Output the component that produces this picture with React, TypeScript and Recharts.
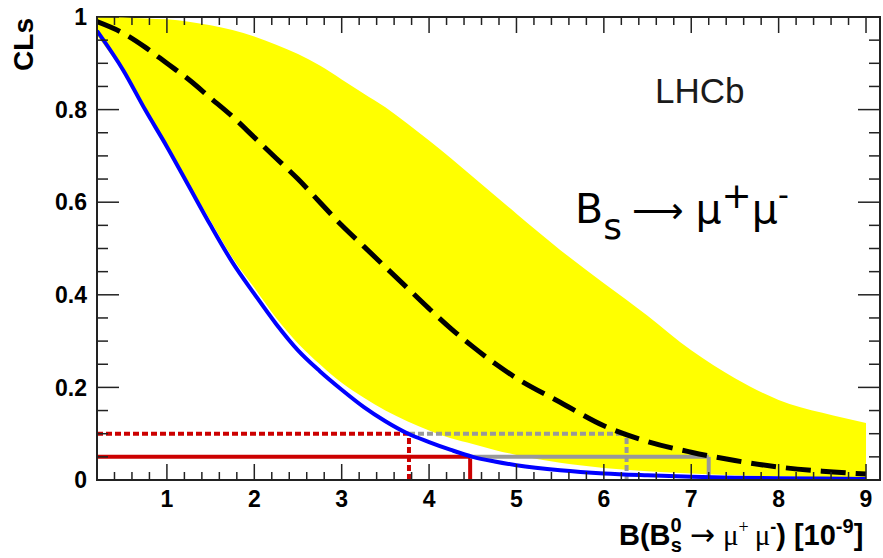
import React from 'react';
import { ComposedChart, Area, Line, XAxis, YAxis, ReferenceLine, ReferenceArea } from 'recharts';

// branching fraction in units of 1e-9
const mass = [0.2, 0.5, 0.75, 1, 1.25, 1.5, 1.75, 2, 2.25, 2.5, 2.75, 3, 3.25, 3.5, 3.75, 4, 4.25, 4.5, 4.75, 5, 5.5, 6, 6.5, 7, 7.5, 8, 8.5, 9];
const observed = [0.97, 0.885, 0.8, 0.72, 0.635, 0.55, 0.47, 0.402, 0.337, 0.28, 0.235, 0.195, 0.158, 0.127, 0.101, 0.082, 0.065, 0.05, 0.04, 0.032, 0.021, 0.014, 0.01, 0.007, 0.005, 0.004, 0.003, 0.002];
const expected = [0.99, 0.965, 0.935, 0.9, 0.865, 0.825, 0.785, 0.74, 0.695, 0.65, 0.6, 0.55, 0.505, 0.46, 0.415, 0.37, 0.327, 0.288, 0.252, 0.22, 0.168, 0.117, 0.083, 0.06, 0.042, 0.028, 0.019, 0.013];
const bandLow = [0.96, 0.88, 0.8, 0.725, 0.64, 0.56, 0.48, 0.415, 0.35, 0.295, 0.25, 0.21, 0.178, 0.15, 0.127, 0.107, 0.09, 0.078, 0.065, 0.054, 0.037, 0.026, 0.019, 0.014, 0.01, 0.008, 0.006, 0.005];
const bandHigh = [1.0, 0.999, 0.997, 0.995, 0.99, 0.982, 0.972, 0.958, 0.94, 0.92, 0.895, 0.865, 0.835, 0.805, 0.77, 0.733, 0.695, 0.655, 0.615, 0.575, 0.497, 0.425, 0.355, 0.28, 0.22, 0.173, 0.145, 0.123];

const clsLevels = [0.1, 0.05]; // 90% and 95% CL
const observedLimits = [3.77, 4.47];
const expectedLimits = [6.26, 7.2];

const xMin = 0.2;
const xMax = 9.16;
const xTicks = Array.from({ length: 44 }, (_, i) => Math.round((0.4 + i * 0.2) * 10) / 10);
const yTicks = Array.from({ length: 21 }, (_, i) => Math.round(i * 5) / 100);

const data = mass.map((x, i) => ({
  x,
  obs: observed[i],
  exp: expected[i],
  band: [bandLow[i], bandHigh[i]],
}));

const W = 883;
const H = 558;
const PLOT_W = 783;
const PLOT_H = 463;
const font = '"Liberation Sans", Arial, sans-serif';
const serif = '"Liberation Serif", serif';
const dejavu = '"DejaVu Sans", sans-serif';

const XTick = (props: any) => {
  const { x, y, payload } = props;
  const v = payload.value;
  const major = Math.abs(v - Math.round(v)) < 1e-6;
  const len = major ? 16 : 8;
  return (
    <g>
      <line x1={x} y1={y} x2={x} y2={y - len} stroke="#222" strokeWidth={1.5} />
      <line x1={x} y1={y - PLOT_H} x2={x} y2={y - PLOT_H + len} stroke="#222" strokeWidth={1.5} />
      {major && (
        <text x={x} y={y + 27} textAnchor="middle" fontFamily={font} fontWeight="bold" fontSize={23} fill="#000">
          {v}
        </text>
      )}
    </g>
  );
};

const YTick = (props: any) => {
  const { x, y, payload } = props;
  const v = payload.value;
  const major = Math.abs(v * 5 - Math.round(v * 5)) < 1e-6;
  const len = major ? 22 : 11;
  const label = v === 0 ? '0' : v === 1 ? '1' : v.toFixed(1);
  return (
    <g>
      <line x1={x} y1={y} x2={x + len} y2={y} stroke="#222" strokeWidth={1.5} />
      <line x1={x + PLOT_W} y1={y} x2={x + PLOT_W - len} y2={y} stroke="#222" strokeWidth={1.5} />
      {major && (
        <text x={x - 10} y={y} dy="0.36em" textAnchor="end" fontFamily={font} fontWeight="bold" fontSize={23} fill="#000">
          {label}
        </text>
      )}
    </g>
  );
};

export default function App() {
  return (
    <div style={{ position: 'absolute', left: 0, top: 0, background: '#fff' }}>
      <ComposedChart width={W} height={H} data={data} margin={{ top: 17, right: 3, left: 0, bottom: 0 }}>
        <XAxis
          dataKey="x"
          type="number"
          domain={[xMin, xMax]}
          allowDataOverflow
          ticks={xTicks}
          interval={0}
          tickSize={0}
          tickMargin={0}
          tickLine={false}
          tick={<XTick />}
          height={78}
          axisLine={{ stroke: '#222', strokeWidth: 2 }}
        />
        <YAxis
          type="number"
          domain={[0, 1]}
          allowDataOverflow
          ticks={yTicks}
          interval={0}
          tickSize={0}
          tickMargin={0}
          tickLine={false}
          tick={<YTick />}
          width={97}
          axisLine={{ stroke: '#222', strokeWidth: 2 }}
        />
        <ReferenceArea x1={xMin} x2={xMax} y1={0} y2={1} fill="none" stroke="#222" strokeWidth={2} />
        <Area
          dataKey="band"
          type="monotone"
          stroke="none"
          fill="#ffff00"
          fillOpacity={1}
          isAnimationActive={false}
          activeDot={false}
        />
        <ReferenceLine segment={[{ x: xMin, y: clsLevels[0] }, { x: observedLimits[0], y: clsLevels[0] }]} stroke="#cc0000" strokeWidth={4} strokeDasharray="6 3" />
        <ReferenceLine segment={[{ x: observedLimits[0], y: 0 }, { x: observedLimits[0], y: clsLevels[0] }]} stroke="#cc0000" strokeWidth={4} strokeDasharray="6 3" />
        <ReferenceLine segment={[{ x: observedLimits[0], y: clsLevels[0] }, { x: expectedLimits[0], y: clsLevels[0] }]} stroke="#999999" strokeWidth={4} strokeDasharray="6 3" />
        <ReferenceLine segment={[{ x: expectedLimits[0], y: 0 }, { x: expectedLimits[0], y: clsLevels[0] }]} stroke="#999999" strokeWidth={4} strokeDasharray="6 3" />
        <ReferenceLine segment={[{ x: xMin, y: clsLevels[1] }, { x: observedLimits[1], y: clsLevels[1] }]} stroke="#cc0000" strokeWidth={4} />
        <ReferenceLine segment={[{ x: observedLimits[1], y: 0 }, { x: observedLimits[1], y: clsLevels[1] }]} stroke="#cc0000" strokeWidth={4} />
        <ReferenceLine segment={[{ x: observedLimits[1], y: clsLevels[1] }, { x: expectedLimits[1], y: clsLevels[1] }]} stroke="#999999" strokeWidth={4} />
        <ReferenceLine segment={[{ x: expectedLimits[1], y: 0 }, { x: expectedLimits[1], y: clsLevels[1] }]} stroke="#999999" strokeWidth={4} />
        <Line dataKey="obs" type="monotone" stroke="#0000ff" strokeWidth={4} dot={false} activeDot={false} isAnimationActive={false} />
        <Line dataKey="exp" type="monotone" stroke="#000" strokeWidth={5} strokeDasharray="25 10" dot={false} activeDot={false} isAnimationActive={false} />

        <text transform="rotate(-90)" x={-18} y={33} textAnchor="end" fontFamily={font} fontWeight="bold" fontSize={28} fill="#000">
          CLs
        </text>
        <text x={655} y={103} fontFamily={font} fontSize={35} fill="#1a1a1a">
          LHCb
        </text>
        <text x={575} y={223} fontFamily={dejavu} fontSize={41} fill="#000">
          B
          <tspan fontSize={36} dy={16}>s</tspan>
          <tspan dy={-16} dx={10} fontSize={36}>{'\u27f6'}</tspan>
          <tspan dx={12}>{'\u03bc'}</tspan>
          <tspan fontSize={36} dy={-15}>+</tspan>
          <tspan dy={15}>{'\u03bc'}</tspan>
          <tspan fontSize={30} dy={-18}>-</tspan>
        </text>
        <text x={619} y={545} fontFamily={font} fontWeight="bold" fontSize={29} fill="#000">
          B(B
          <tspan fontSize={20} dy={-13}>0</tspan>
          <tspan fontSize={20} dx={-11} dy={20}>s</tspan>
          <tspan dy={-7} dx={8} fontFamily={dejavu} fontWeight="normal" fontSize={30}>{'\u2192'}</tspan>
          <tspan dx={8} fontFamily={serif} fontWeight="normal">{'\u03bc'}</tspan>
          <tspan fontSize={18} dy={-12} fontFamily={serif} fontWeight="normal">+</tspan>
          <tspan dy={12} dx={6} fontFamily={serif} fontWeight="normal">{'\u03bc'}</tspan>
          <tspan fontSize={18} dy={-12}>-</tspan>
          <tspan dy={12}>{') [10'}</tspan>
          <tspan fontSize={20} dy={-12}>-9</tspan>
          <tspan dy={12}>]</tspan>
        </text>
      </ComposedChart>
    </div>
  );
}
